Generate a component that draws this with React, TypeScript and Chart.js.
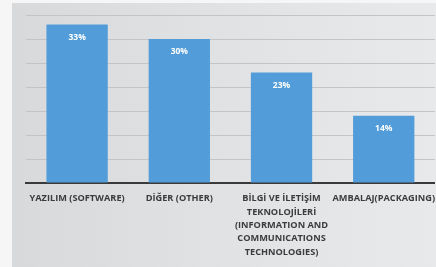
import React, { useEffect, useRef } from "react";
import { Chart, registerables } from "chart.js";

Chart.register(...registerables);

const categories: (string | string[])[] = [
  "YAZILIM (SOFTWARE)",
  "DİĞER (OTHER)",
  ["BİLGİ VE İLETİŞİM", "TEKNOLOJİLERİ", "(INFORMATION AND", "COMMUNICATIONS", "TECHNOLOGIES)"],
  "AMBALAJ(PACKAGING)",
];
const values: number[] = [33, 30, 23, 14];
const valueLabels: string[] = ["33%", "30%", "23%", "14%"];

const bgPlugin = {
  id: "bgPlugin",
  beforeDraw(chart: any) {
    const { ctx, width, height } = chart;
    ctx.save();
    ctx.fillStyle = "#f6f6f6";
    ctx.fillRect(0, 0, width, height);
    const g = ctx.createLinearGradient(12, 0, width, 0);
    g.addColorStop(0, "#d8d9db");
    g.addColorStop(0.5, "#e1e2e4");
    g.addColorStop(1, "#e8e9ea");
    ctx.fillStyle = g;
    ctx.fillRect(12, 3, width - 12, height - 3);
    ctx.restore();
  },
};

const labelPlugin = {
  id: "labelPlugin",
  afterDatasetsDraw(chart: any) {
    const { ctx } = chart;
    const meta = chart.getDatasetMeta(0);
    ctx.save();
    ctx.fillStyle = "#ffffff";
    ctx.font = "bold 8.5px 'Open Sans'";
    ctx.textAlign = "center";
    ctx.textBaseline = "middle";
    meta.data.forEach((bar: any, i: number) => {
      ctx.fillText(valueLabels[i], bar.x, bar.y + 13);
    });
    ctx.restore();
  },
};

export default function App() {
  const ref = useRef<HTMLCanvasElement>(null);
  useEffect(() => {
    if (!ref.current) return;
    const chart = new Chart(ref.current, {
      type: "bar",
      data: {
        labels: categories,
        datasets: [
          {
            data: values,
            backgroundColor: "#529dd9",
            borderWidth: 0,
            barPercentage: 0.6,
            categoryPercentage: 1,
          },
        ],
      },
      options: {
        responsive: false,
        animation: false,
        layout: { padding: { top: 15, left: 0, right: 0, bottom: 0 } },
        plugins: {
          legend: { display: false },
          tooltip: { enabled: false },
        },
        scales: {
          x: {
            grid: { display: false },
            border: { display: true, color: "#3a3a3a", width: 2 },
            ticks: {
              color: "#3c3c3c",
              font: { family: "'Open Sans'", size: 9.2, weight: "bold", lineHeight: 1.45 },
              padding: 1,
              maxRotation: 0,
              autoSkip: false,
            },
            afterFit: (s: any) => {
              s.height = 84;
            },
          },
          y: {
            min: 0,
            max: 35,
            ticks: { display: false, stepSize: 5 },
            grid: { color: "#c3c4c6", lineWidth: 1, drawTicks: false },
            border: { display: false },
            afterFit: (s: any) => {
              s.width = 26;
            },
          },
        },
      },
      plugins: [bgPlugin, labelPlugin],
    });
    return () => chart.destroy();
  }, []);
  return (
    <div style={{ position: "absolute", left: 0, top: 0, width: 436, height: 267 }}>
      <canvas ref={ref} width={436} height={267} />
    </div>
  );
}
